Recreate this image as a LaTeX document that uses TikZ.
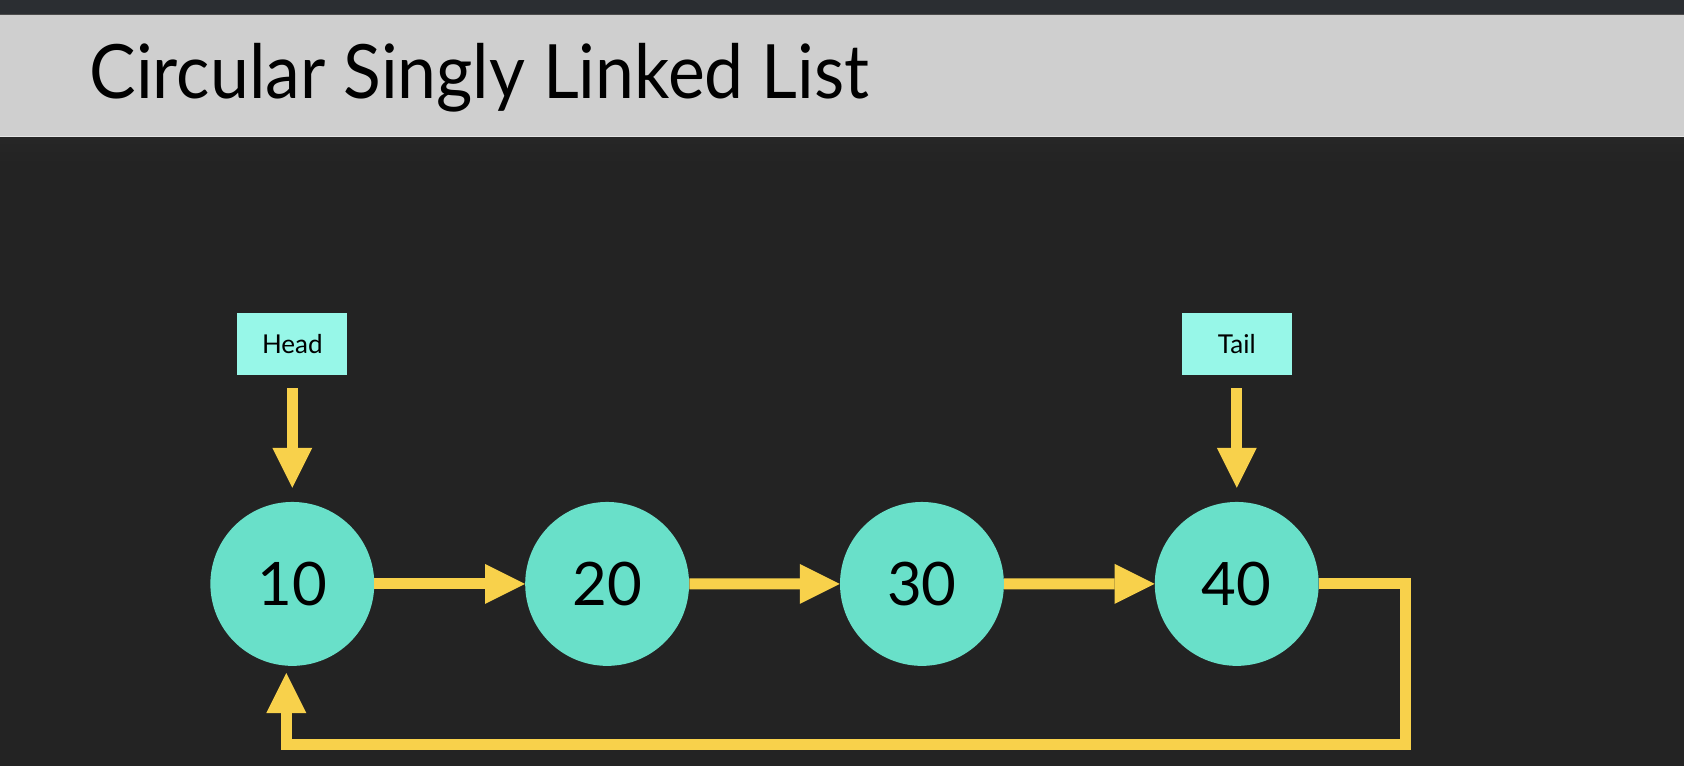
\documentclass[tikz,border=0pt]{standalone}
\usepackage{fontspec}
\setmainfont{Lato}
\newfontfamily\titlefont[FakeStretch=0.93]{Lato}
\usepackage{tikz}
\usetikzlibrary{matrix,arrows.meta}

\definecolor{bgdark}{HTML}{232323}
\definecolor{strip}{HTML}{2B2E32}
\definecolor{bar}{HTML}{CFCFCF}
\definecolor{nodefill}{HTML}{69E0C9}
\definecolor{ptrfill}{HTML}{97F7E8}
\definecolor{link}{HTML}{F8D14B}

\begin{document}
\begin{tikzpicture}[x=1pt,y=-1pt,
    listnode/.style={circle,fill=nodefill,minimum size=164pt,inner sep=0pt,
      font=\fontsize{60}{60}\selectfont},
    ptrbox/.style={rectangle,fill=ptrfill,minimum width=110pt,minimum height=62pt,
      inner sep=0pt,font=\fontsize{26}{26}\selectfont},
    link/.style={draw=link,line width=11pt,
      -{Triangle[length=40pt,width=40pt,line width=0pt,fill=link]}}]
  % background and title bar
  \fill[bgdark] (0,0) rectangle (1684,766);
  \shade[top color=black!85,bottom color=bgdark] (0,137) rectangle (1684,165);
  \fill[strip] (0,0) rectangle (1684,14);
  \fill[bar] (0,14) rectangle (1684,137);
  \draw[black!70,line width=1pt] (0,14.5) -- (1684,14.5);
  \draw[white!90!black,line width=1pt] (0,136.5) -- (1684,136.5);
  \node[anchor=base west,inner sep=0pt,font=\titlefont\fontsize{75}{75}\selectfont] (title)
    at (89,99) {Circular Singly Linked List};
  % the list
  \matrix (m) [matrix of nodes,row sep=127pt,column sep=151pt] at (764.5,489.75) {
    |[ptrbox]| Head & & & |[ptrbox]| Tail \\
    |[listnode]| 10 & |[listnode]| 20 & |[listnode]| 30 & |[listnode]| 40 \\
  };
  \coordinate (turn) at (1406,745);
  \path[link]
    (m-1-1) edge[shorten <=13pt,shorten >=14pt] (m-2-1)
    (m-1-4) edge[shorten <=13pt,shorten >=14pt] (m-2-4)
    (m-2-1) edge (m-2-2)
    (m-2-2) edge (m-2-3)
    (m-2-3) edge (m-2-4);
  \draw[link] (m-2-4.east) -| (turn) -| ([xshift=-6pt,yshift=-7pt]m-2-1.south);
\end{tikzpicture}
\end{document}
